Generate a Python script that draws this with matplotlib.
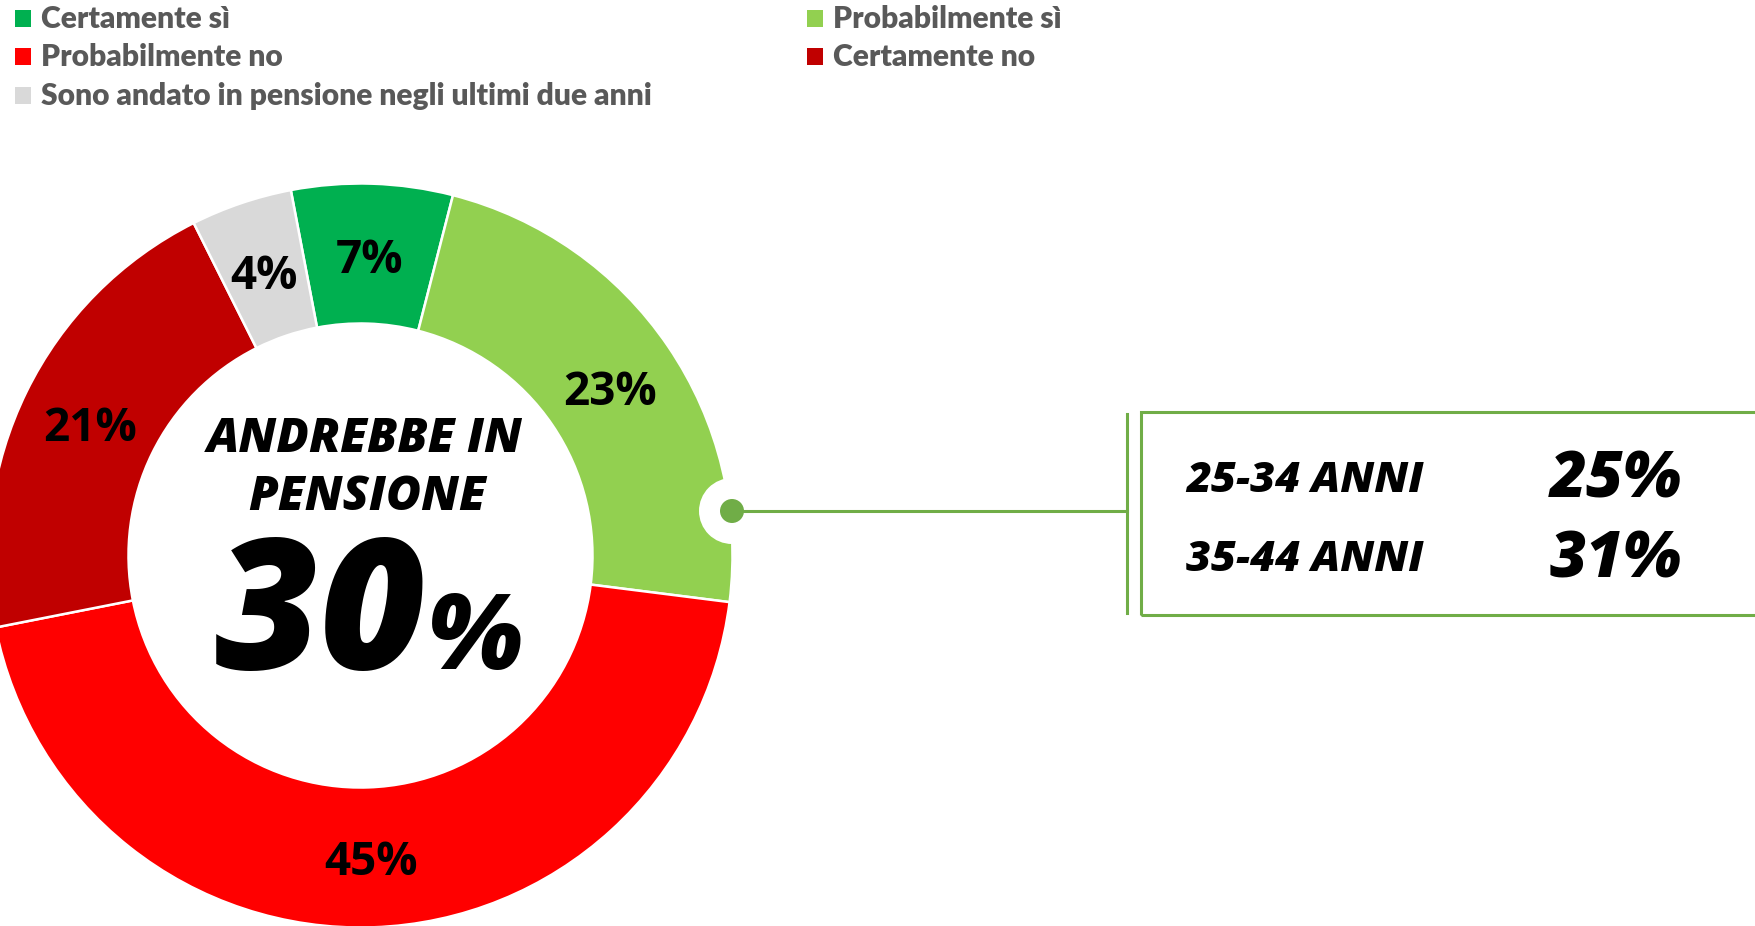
import matplotlib
matplotlib.use("Agg")
import matplotlib.pyplot as plt
from matplotlib.patches import Circle, Rectangle

categories = ["Certamente sì", "Probabilmente sì", "Probabilmente no", "Certamente no",
              "Sono andato in pensione negli ultimi due anni"]
values = [7.0, 23.0, 44.9, 20.7, 4.4]
colors = ["#00B050", "#92D050", "#FF0000", "#C00000", "#D9D9D9"]
explode = [0, 0, 0.01, 0, 0]
center_title = ["ANDREBBE IN", "PENSIONE"]
center_value = 30
age_groups = ["25-34 ANNI", "35-44 ANNI"]
age_values = [25, 31]

W, H = 1755, 926
fig = plt.figure(figsize=(W / 100, H / 100), dpi=100)
ax = fig.add_axes([0, 0, 1, 1])


def Y(y):
    return H - y


cx, cy, R = 360.5, 555.5, 372
ring = 140
wedges, _, autotexts = ax.pie(
    values, colors=colors, startangle=100.8, counterclock=False, explode=explode,
    radius=R, center=(cx, Y(cy)),
    wedgeprops=dict(width=ring, edgecolor="white", linewidth=1.8),
    autopct=lambda p: f"{p:.0f}%", pctdistance=0.81,
    textprops=dict(fontsize=33, fontweight="bold", family="Open Sans", color="black"))
for t in autotexts:
    x, y = t.get_position()
    t.set_position((x, y - 6))
    t.set_va("center")
    t.set_ha("center")

ax.set_xlim(0, W)
ax.set_ylim(0, H)
ax.set_aspect("equal")
ax.axis("off")

# legend
leg_pos = [(15, 28), (807, 28), (15, 66), (807, 66), (15, 105)]
for (lx, ly), lab, col in zip(leg_pos, categories, colors):
    ax.add_patch(Rectangle((lx, Y(ly - 1)), 16, 17, facecolor=col, edgecolor="none"))
    ax.text(lx + 26, Y(ly), lab, fontsize=21.6, fontweight="heavy", family="Lato",
            color="#595959", va="baseline", ha="left")

# center text
big = dict(fontweight="heavy", style="italic", family="Open Sans", color="black")
ax.text(365, Y(452), center_title[0], fontsize=34.5, ha="center", va="baseline", **big)
ax.text(367, Y(510), center_title[1], fontsize=34.5, ha="center", va="baseline", **big)
ax.text(426, Y(669), f"{center_value}", fontsize=131, ha="right", va="baseline", **big)
ax.text(428, Y(669), "%", fontsize=75, ha="left", va="baseline", **big)

# connector
dot_x, dot_y = 732, 511
ax.add_patch(Circle((dot_x, Y(dot_y)), 33, facecolor="white", edgecolor="none", zorder=5))
ax.plot([dot_x, 1127], [Y(dot_y), Y(dot_y)], color="#70AD47", lw=2.2, zorder=6)
ax.add_patch(Circle((dot_x, Y(dot_y)), 12, facecolor="#70AD47", edgecolor="none", zorder=7))
ax.plot([1127, 1127], [Y(414), Y(613)], color="#70AD47", lw=2.2)
ax.add_patch(Rectangle((1141, Y(615)), 700, 203, facecolor="none", edgecolor="#70AD47", lw=2.2))

rows_y = [492, 571]
for ry, g, v in zip(rows_y, age_groups, age_values):
    ax.text(1186, Y(ry), g, fontsize=31, ha="left", va="baseline", **big)
    ax.text(1550, Y(ry + 6), f"{v}%", fontsize=46, ha="left", va="baseline", **big)

fig.savefig("out.png", dpi=100)
